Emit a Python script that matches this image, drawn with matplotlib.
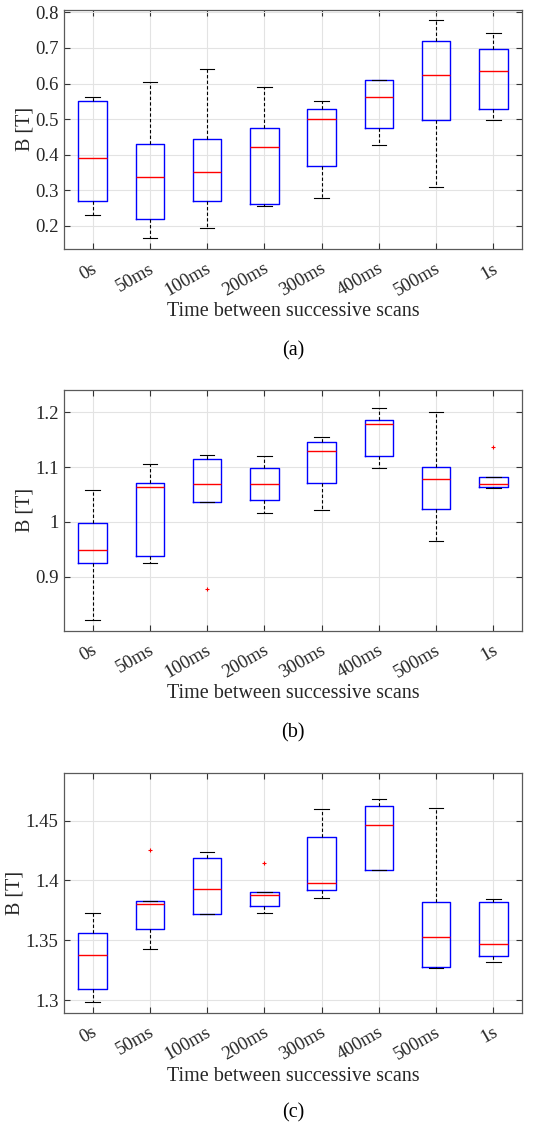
"""
B-field spread versus the time between successive scans, three panels.
"""

import matplotlib.pyplot as plt
import matplotlib.transforms as mtransforms

plt.rcParams['font.family'] = ['Liberation Serif', 'DejaVu Serif']

labels = ['0s', '50ms', '100ms', '200ms', '300ms', '400ms', '500ms', '1s']

# panel (a)
a_whislo = [0.231, 0.167, 0.195, 0.256, 0.279, 0.427, 0.310, 0.497]
a_q1 = [0.270, 0.221, 0.271, 0.261, 0.368, 0.474, 0.499, 0.528]
a_med = [0.390, 0.338, 0.351, 0.423, 0.500, 0.562, 0.625, 0.635]
a_q3 = [0.552, 0.431, 0.443, 0.476, 0.529, 0.609, 0.720, 0.697]
a_whishi = [0.561, 0.604, 0.641, 0.591, 0.551, 0.611, 0.779, 0.742]
a_fliers = [[], [], [], [], [], [], [], []]

# panel (b)
b_whislo = [0.821, 0.924, 1.036, 1.016, 1.021, 1.099, 0.965, 1.061]
b_q1 = [0.925, 0.937, 1.036, 1.039, 1.070, 1.121, 1.023, 1.064]
b_med = [0.949, 1.063, 1.069, 1.069, 1.129, 1.179, 1.079, 1.069]
b_q3 = [0.997, 1.070, 1.114, 1.098, 1.146, 1.185, 1.100, 1.081]
b_whishi = [1.058, 1.105, 1.122, 1.121, 1.155, 1.207, 1.200, 1.081]
b_fliers = [[], [], [0.877], [], [], [], [], [1.136]]

# panel (c)
c_whislo = [1.2983, 1.3424, 1.3719, 1.3731, 1.3850, 1.4087, 1.3268, 1.3321]
c_q1 = [1.3092, 1.3594, 1.3719, 1.3784, 1.3917, 1.4087, 1.3273, 1.3368]
c_med = [1.3376, 1.3806, 1.3931, 1.3881, 1.3976, 1.4467, 1.3524, 1.3466]
c_q3 = [1.3563, 1.3825, 1.4191, 1.3901, 1.4363, 1.4620, 1.3823, 1.3817]
c_whishi = [1.3725, 1.3825, 1.4235, 1.3901, 1.4598, 1.4678, 1.4606, 1.3842]
c_fliers = [[], [1.4252], [], [1.4143], [], [], [], []]


def make_stats(whislo, q1, med, q3, whishi, fliers):
    return [dict(whislo=lo, q1=a, med=m, q3=b, whishi=hi, fliers=f)
            for lo, a, m, b, hi, f in zip(whislo, q1, med, q3, whishi, fliers)]


def draw_panel(fig, ax, stats, ylim, yticks, yticklabels, tag):
    pos = list(range(1, len(stats) + 1))
    ax.bxp(stats, positions=pos, widths=0.5,
           showfliers=True, patch_artist=False,
           boxprops=dict(color='#0000ff', linewidth=1.0),
           medianprops=dict(color='#ff0000', linewidth=1.0),
           whiskerprops=dict(color='black', linewidth=0.8, linestyle=(0, (3, 2))),
           capprops=dict(color='black', linewidth=0.8),
           capwidths=0.25,
           flierprops=dict(marker='+', markersize=3, markeredgecolor='#ff0000',
                           markeredgewidth=0.8, linestyle='none'))
    ax.set_xlim(0.5, 8.5)
    ax.set_ylim(*ylim)
    ax.set_yticks(yticks)
    ax.set_yticklabels(yticklabels)
    ax.set_xticks(pos)
    ax.set_xticklabels([])
    # rotated category labels, top-right corner just right of each tick
    shift = mtransforms.ScaledTranslation(7 / 100, -11 / 100, fig.dpi_scale_trans)
    for p, lab in zip(pos, labels):
        ax.text(p, 0, lab, transform=ax.get_xaxis_transform() + shift,
                rotation=30, ha='right', va='top', fontsize=13.5,
                color='#262626')
    ax.grid(True, color='#e3e3e3', linewidth=0.8)
    ax.set_axisbelow(True)
    for s in ax.spines.values():
        s.set_color('#5a5a5a')
        s.set_linewidth(0.9)
    ax.tick_params(direction='in', top=True, right=True, length=4,
                   color='#333333', labelsize=13.5, labelcolor='#262626', pad=4)
    ax.set_xlabel('Time between successive scans', fontsize=14.5,
                  color='#262626')
    ax.xaxis.set_label_coords(0.5, tag[2], transform=ax.transAxes)
    ax.xaxis.label.set_va('center')
    ax.set_ylabel('B [T]', fontsize=14.5, color='#262626')
    ax.yaxis.set_label_coords(tag[3], 0.5, transform=ax.transAxes)
    ax.yaxis.label.set_va('center')
    ax.text(0.5, tag[1], tag[0], transform=ax.transAxes, ha='center',
            va='center', fontsize=14.5, color='black')


fig = plt.figure(figsize=(5.46, 11.26), dpi=100)
W, H = 546, 1126
left, right = 64, 522

panels = [
    (9.5, 249, make_stats(a_whislo, a_q1, a_med, a_q3, a_whishi, a_fliers),
     (0.1354, 0.8079), [0.2, 0.3, 0.4, 0.5, 0.6, 0.7, 0.8],
     ['0.2', '0.3', '0.4', '0.5', '0.6', '0.7', '0.8'], '(a)', 350.7, 311.7, 25),
    (390, 630.7, make_stats(b_whislo, b_q1, b_med, b_q3, b_whishi, b_fliers),
     (0.801, 1.2407), [0.9, 1.0, 1.1, 1.2],
     ['0.9', '1', '1.1', '1.2'], '(b)', 733, 694, 25),
    (773.3, 1012.7, make_stats(c_whislo, c_q1, c_med, c_q3, c_whishi, c_fliers),
     (1.2894, 1.4896), [1.3, 1.35, 1.4, 1.45],
     ['1.3', '1.35', '1.4', '1.45'], '(c)', 1113, 1076.7, 15),
]

for top, bottom, stats, ylim, yt, ytl, tag, tag_y, xlab_y, ylab_x in panels:
    ax = fig.add_axes([left / W, 1 - bottom / H, (right - left) / W,
                       (bottom - top) / H])
    tag_pos = -(tag_y - bottom) / (bottom - top)
    xlab_pos = -(xlab_y - bottom) / (bottom - top)
    ylab_pos = (ylab_x - left) / (right - left)
    draw_panel(fig, ax, stats, ylim, yt, ytl, (tag, tag_pos, xlab_pos, ylab_pos))

fig.savefig('out.png', dpi=100)
